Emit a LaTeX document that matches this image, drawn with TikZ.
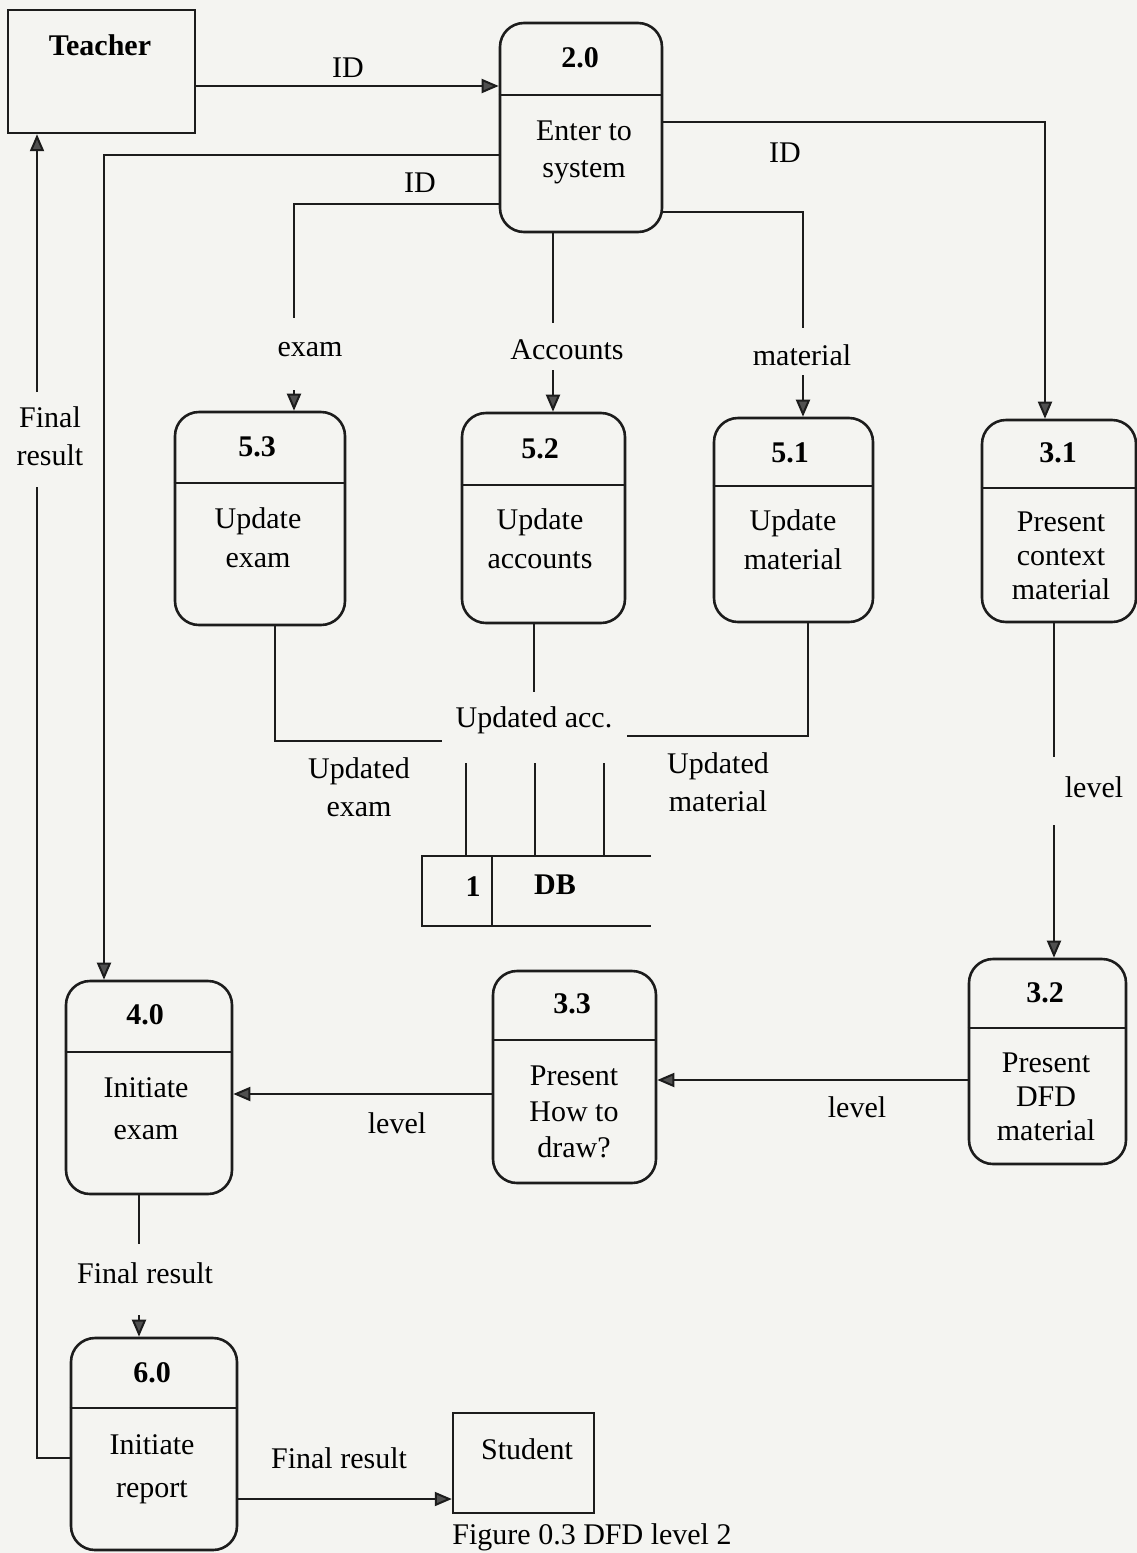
\documentclass[tikz,border=0pt]{standalone}
\usepackage{fontspec}
\setmainfont{Liberation Serif}
\usetikzlibrary{arrows.meta}
\definecolor{paper}{RGB}{244,244,241}
\definecolor{ink}{RGB}{28,28,28}
\definecolor{tipgray}{RGB}{80,80,80}
\tikzset{
  proc/.style={draw=ink, line width=2.6pt, rounded corners=24pt, inner sep=0pt},
  ext/.style={draw=ink, line width=2.4pt, inner sep=0pt},
  divider/.style={draw=ink, line width=2.2pt},
  flow/.style={draw=ink, line width=2pt},
  arr/.style={flow, -{Triangle[length=17pt,width=14pt,fill=tipgray]}},
  body/.style={font=\fontsize{30}{#1}\selectfont, inner sep=0pt, align=center},
  body/.default=37pt,
  num/.style={font=\fontsize{30}{36}\selectfont\bfseries, inner sep=0pt},
  lbl/.style={font=\fontsize{30}{38}\selectfont, inner sep=0pt, align=center}
}
\begin{document}
\begin{tikzpicture}[x=1pt,y=-1pt]
\fill[paper] (0,0) rectangle (1137,1553);
\useasboundingbox (0,0) rectangle (1137,1553);

% external entities
\node[ext, minimum width=187pt, minimum height=123pt] (teacher) at (101.5,71.5) {};
\node[num] (teachert) at (100,45) {Teacher};
\node[ext, minimum width=141pt, minimum height=100pt] (student) at (523.5,1463) {};
\node[lbl] (studentt) at (527,1449) {Student};

% processes: frame, divider, number, description
\node[proc, minimum width=162pt, minimum height=209pt] (p20) at (581,127.5) {};
\draw[divider] (p20.west |- 0,95) -- (p20.east |- 0,95);
\node[num] (p20n) at (580,58) {2.0};
\node[body] (p20t) at (584,152) {Enter to\\system};

\node[proc, minimum width=170pt, minimum height=213pt] (p53) at (260,518.5) {};
\draw[divider] (p53.west |- 0,483) -- (p53.east |- 0,483);
\node[num] (p53n) at (257,447) {5.3};
\node[body=39pt] (p53t) at (258,538) {Update\\exam};

\node[proc, minimum width=163pt, minimum height=210pt] (p52) at (543.5,518) {};
\draw[divider] (p52.west |- 0,485) -- (p52.east |- 0,485);
\node[num] (p52n) at (540,449) {5.2};
\node[body=39pt] (p52t) at (540,539) {Update\\accounts};

\node[proc, minimum width=159pt, minimum height=204pt] (p51) at (793.5,520) {};
\draw[divider] (p51.west |- 0,486) -- (p51.east |- 0,486);
\node[num] (p51n) at (790,453) {5.1};
\node[body=39pt] (p51t) at (793,540) {Update\\material};

\node[proc, minimum width=154pt, minimum height=202pt] (p31) at (1059,521) {};
\draw[divider] (p31.west |- 0,488) -- (p31.east |- 0,488);
\node[num] (p31n) at (1058,453) {3.1};
\node[body=34pt] (p31t) at (1061,556) {Present\\context\\material};

\node[proc, minimum width=157pt, minimum height=205pt] (p32) at (1047.5,1061.5) {};
\draw[divider] (p32.west |- 0,1028) -- (p32.east |- 0,1028);
\node[num] (p32n) at (1045,993) {3.2};
\node[body=34pt] (p32t) at (1046,1097) {Present\\DFD\\material};

\node[proc, minimum width=163pt, minimum height=212pt] (p33) at (574.5,1077) {};
\draw[divider] (p33.west |- 0,1040) -- (p33.east |- 0,1040);
\node[num] (p33n) at (572,1004) {3.3};
\node[body=36pt] (p33t) at (574,1112) {Present\\How to\\draw?};

\node[proc, minimum width=166pt, minimum height=213pt] (p40) at (149,1087.5) {};
\draw[divider] (p40.west |- 0,1052) -- (p40.east |- 0,1052);
\node[num] (p40n) at (145,1015) {4.0};
\node[body=42pt] (p40t) at (146,1109) {Initiate\\exam};

\node[proc, minimum width=166pt, minimum height=212pt] (p60) at (154,1444) {};
\draw[divider] (p60.west |- 0,1408) -- (p60.east |- 0,1408);
\node[num] (p60n) at (152,1373) {6.0};
\node[body=43pt] (p60t) at (152,1469) {Initiate\\report};

% data store
\node[minimum width=229pt, minimum height=70pt, inner sep=0pt] (db) at (536.5,891) {};
\draw[ext] (db.north east) -- (db.north west) -- (db.south west) -- (db.south east);
\draw[divider] (db.north west -| 492,0) -- (db.south west -| 492,0);
\node[num] (dbn) at (473,887) {1};
\node[num] (dbt) at (555,885) {DB};

% break points where flow labels interrupt a line
\coordinate (examA) at (294,318);  \coordinate (examB) at (294,390);
\coordinate (accA) at (553,323);   \coordinate (accB) at (553,370);
\coordinate (matA) at (803,328);   \coordinate (matB) at (803,375);
\coordinate (lvlA) at (1054,757);  \coordinate (lvlB) at (1054,825);
\coordinate (finA) at (139,1244);  \coordinate (finB) at (139,1315);
\coordinate (backA) at (37,487);   \coordinate (backB) at (37,392);
\coordinate (uex) at (442,741);
\coordinate (uac) at (534,692);
\coordinate (uma) at (627,736);
\coordinate (in1) at (466,763);
\coordinate (in2) at (535,763);
\coordinate (in3) at (604,763);

% flows
\draw[arr] (teacher.east |- 0,86) -- (p20.west |- 0,86);
\draw[arr] (p20.west |- 0,155) -- (104,155) -- (p40.north -| 104,0);
\draw[flow] (p20.west |- 0,204) -- (examA |- 0,204) -- (examA);
\draw[arr] (examB) -- (p53.north -| examB);
\draw[flow] (p20.south -| accA) -- (accA);
\draw[arr] (accB) -- (p52.north -| accB);
\draw[flow] (p20.east |- 0,212) -- (matA |- 0,212) -- (matA);
\draw[arr] (matB) -- (p51.north -| matB);
\draw[arr] (p20.east |- 0,122) -- (1045,122) -- (p31.north -| 1045,0);

\draw[flow] (p53.south -| 275,0) -- (275,741) -- (uex);
\draw[flow] (p52.south -| uac) -- (uac);
\draw[flow] (p51.south -| 808,0) -- (808,736) -- (uma);
\draw[flow] (in1) -- (in1 |- db.north);
\draw[flow] (in2) -- (in2 |- db.north);
\draw[flow] (in3) -- (in3 |- db.north);

\draw[flow] (p31.south -| lvlA) -- (lvlA);
\draw[arr] (lvlB) -- (p32.north -| lvlB);
\draw[arr] (p32.west |- 0,1080) -- (p33.east |- 0,1080);
\draw[arr] (p33.west |- 0,1094) -- (p40.east |- 0,1094);
\draw[flow] (p40.south -| finA) -- (finA);
\draw[arr] (finB) -- (p60.north -| finB);
\draw[flow] (p60.west |- 0,1458) -- (backA |- 0,1458) -- (backA);
\draw[arr] (backB) -- (teacher.south -| backB);
\draw[arr] (p60.east |- 0,1499) -- (student.west |- 0,1499);

% flow labels
\node[lbl] (l1) at (348,68) {ID};
\node[lbl] (l2) at (420,183) {ID};
\node[lbl] (l3) at (310,350) {exam};
\node[lbl] (l4) at (567,350) {Accounts};
\node[lbl] (l5) at (785,153) {ID};
\node[lbl] (l6) at (802,355) {material};
\node[lbl] (l7) at (534,720) {Updated acc.};
\node[lbl] (l8) at (359,787) {Updated\\exam};
\node[lbl] (l9) at (718,782) {Updated\\material};
\node[lbl] (l10) at (1094,787) {level};
\node[lbl] (l11) at (857,1107) {level};
\node[lbl] (l12) at (397,1123) {level};
\node[lbl] (l13) at (145,1273) {Final result};
\node[lbl] (l14) at (50,436) {Final\\result};
\node[lbl] (l15) at (339,1458) {Final result};

% caption
\node[font=\fontsize{30}{36}\selectfont, anchor=base, inner sep=0pt] (cap) at (592,1544) {Figure 0.3 DFD level 2};
\end{tikzpicture}
\end{document}
